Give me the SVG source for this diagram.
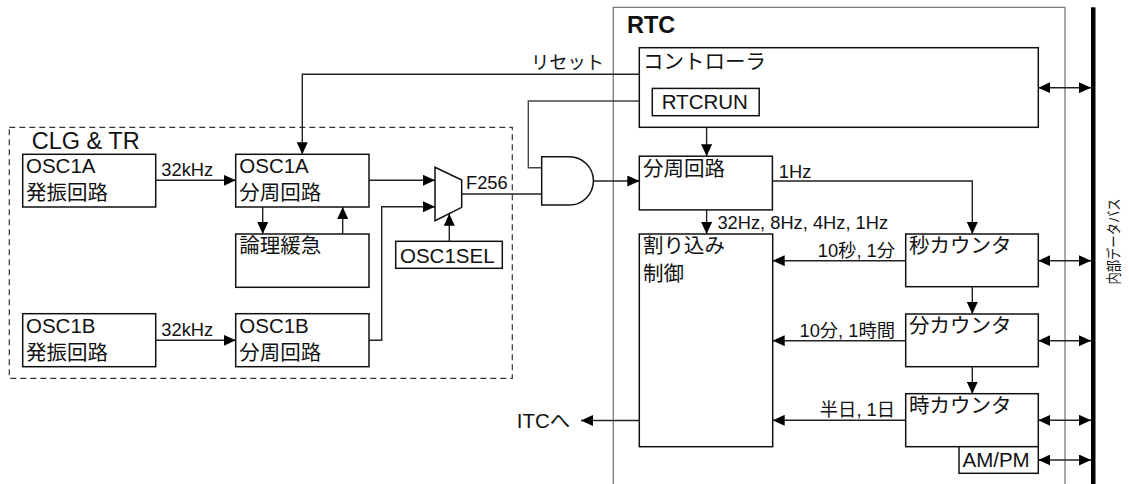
<svg xmlns="http://www.w3.org/2000/svg" width="1129" height="484" viewBox="0 0 1129 484">
<style>
.box{fill:#fff;stroke:#111;stroke-width:1.5}
.t{font-family:"Liberation Sans","Noto Sans CJK JP",sans-serif;font-size:20.5px;fill:#111}
.l{font-family:"Liberation Sans","Noto Sans CJK JP",sans-serif;font-size:18.3px;fill:#111}
.c{fill:none;stroke:#222;stroke-width:1.4}
.g{fill:none;stroke:#7a7a7a;stroke-width:1.3}
</style>
<defs>
<marker id="ah" markerUnits="userSpaceOnUse" markerWidth="12" markerHeight="11" refX="12" refY="5.5" orient="auto-start-reverse">
<path d="M0,0 L12,5.5 L0,11 z" fill="#000"/>
</marker>
</defs>
<rect width="1129" height="484" fill="#fff"/>

<g id="clg-tr">
<rect x="9.3" y="127.3" width="503" height="251" fill="none" stroke="#333" stroke-width="1.2" stroke-dasharray="6,4"/>
<text class="t" x="31.7" y="149.3" style="font-size:23.5px">CLG &amp; TR</text>
</g>

<g id="rtc">
<path class="g" d="M613.3,490 V7.3 H1065 V490"/>
<text x="627" y="32.7" style="font-family:'Liberation Sans',sans-serif;font-size:23.5px;font-weight:bold;fill:#111">RTC</text>
</g>

<g id="bus">
<rect x="1091" y="7.3" width="4.5" height="480" fill="#000"/>
<text class="l" transform="translate(1119,241.5) rotate(-90)" text-anchor="middle" textLength="86" lengthAdjust="spacingAndGlyphs" style="font-size:14.5px">内部データバス</text>
</g>

<g id="connectors">
<path class="c" d="M156,180.3 H235.7" marker-end="url(#ah)"/>
<path class="c" d="M156,340.3 H235.7" marker-end="url(#ah)"/>
<path class="c" d="M639.3,74.3 H302.3 V154.3" marker-end="url(#ah)"/>
<path class="c" d="M262.7,207 V234" marker-end="url(#ah)"/>
<path class="c" d="M342.7,234 V207" marker-end="url(#ah)"/>
<path class="c" d="M369,180.3 H435" marker-end="url(#ah)"/>
<path class="c" d="M369,340.3 H381.7 V206.7 H435" marker-end="url(#ah)"/>
<path class="c" d="M449.3,241.3 V213.8" marker-end="url(#ah)"/>
<path class="c" d="M461.7,194 H541.7"/>
<path class="c" d="M652.3,101 H528.3 V167.7 H541.7" style="stroke:#444"/>
<path class="c" d="M594,181 H639.3" marker-end="url(#ah)"/>
<path class="c" d="M706.6,127.3 V156.2" marker-end="url(#ah)"/>
<path class="c" d="M706.6,209.9 V234" marker-end="url(#ah)"/>
<path class="c" d="M772.4,181 H972.3 V234" marker-end="url(#ah)"/>
<path class="c" d="M972.3,286.7 V314" marker-end="url(#ah)"/>
<path class="c" d="M972.3,366.7 V393.7" marker-end="url(#ah)"/>
<path class="c" d="M905.7,260.7 H772.7" marker-end="url(#ah)"/>
<path class="c" d="M905.7,340.7 H772.7" marker-end="url(#ah)"/>
<path class="c" d="M905.7,420.3 H772.7" marker-end="url(#ah)"/>
<path class="c" d="M639.3,420.5 H581" marker-end="url(#ah)"/>
<path class="c" d="M1038.3,87.7 H1091" marker-start="url(#ah)" marker-end="url(#ah)"/>
<path class="c" d="M1038.3,260.7 H1091" marker-start="url(#ah)" marker-end="url(#ah)"/>
<path class="c" d="M1038.3,340.7 H1091" marker-start="url(#ah)" marker-end="url(#ah)"/>
<path class="c" d="M1038.3,420.3 H1091" marker-start="url(#ah)" marker-end="url(#ah)"/>
<path class="c" d="M1038.3,460 H1091" marker-start="url(#ah)" marker-end="url(#ah)"/>
<text class="l" x="161.3" y="176">32kHz</text>
<text class="l" x="161.3" y="336">32kHz</text>
<text class="l" x="604" y="69.3" text-anchor="end">リセット</text>
<text class="l" x="466" y="189">F256</text>
<text class="l" x="778.8" y="177.8">1Hz</text>
<text class="l" x="717.4" y="228.7">32Hz, 8Hz, 4Hz, 1Hz</text>
<text class="l" x="895" y="256.7" text-anchor="end">10秒, 1分</text>
<text class="l" x="895" y="336.7" text-anchor="end">10分, 1時間</text>
<text class="l" x="895" y="416" text-anchor="end">半日, 1日</text>
<text class="t" x="516.7" y="428.3">ITCへ</text>
</g>

<g id="osc1a-osc">
<rect class="box" x="22.7" y="154.3" width="133" height="52.7"/>
<text class="t" x="26" y="173.3">OSC1A</text>
<text class="t" x="26" y="200">発振回路</text>
</g>
<g id="osc1a-div">
<rect class="box" x="235.7" y="154.3" width="133.3" height="52.7"/>
<text class="t" x="239.3" y="173.3">OSC1A</text>
<text class="t" x="239.3" y="200">分周回路</text>
</g>
<g id="logic-adj">
<rect class="box" x="235.7" y="234" width="133.3" height="53.3"/>
<text class="t" x="239.3" y="253">論理緩急</text>
</g>
<g id="osc1b-osc">
<rect class="box" x="22.7" y="313.7" width="133" height="53"/>
<text class="t" x="26" y="333.3">OSC1B</text>
<text class="t" x="26" y="359.5">発振回路</text>
</g>
<g id="osc1b-div">
<rect class="box" x="235.7" y="313.7" width="133.3" height="53"/>
<text class="t" x="239.3" y="333.3">OSC1B</text>
<text class="t" x="239.3" y="359.5">分周回路</text>
</g>
<g id="mux">
<polygon class="box" points="435,167.3 461.7,180 461.7,207.3 435,220.7"/>
</g>
<g id="osc1sel">
<rect class="box" x="395.7" y="241.3" width="106.6" height="27"/>
<text class="t" x="400" y="263.3">OSC1SEL</text>
</g>
<g id="and-gate">
<path class="box" d="M541.7,156.7 H569.3 A24.15,24.15 0 0 1 569.3,205 H541.7 Z"/>
</g>
<g id="controller">
<rect class="box" x="639.3" y="47.7" width="399" height="79.6"/>
<text class="t" x="643" y="69">コントローラ</text>
</g>
<g id="rtcrun">
<rect class="box" x="652.3" y="88.4" width="106.9" height="27.3"/>
<text class="t" x="661.7" y="108.6">RTCRUN</text>
</g>
<g id="rtc-div">
<rect class="box" x="639.3" y="156.2" width="133.1" height="53.7"/>
<text class="t" x="643" y="176">分周回路</text>
</g>
<g id="interrupt">
<rect class="box" x="639.3" y="234" width="133.4" height="212.7"/>
<text class="t" x="643" y="253">割り込み</text>
<text class="t" x="643" y="281">制御</text>
</g>
<g id="sec-counter">
<rect class="box" x="905.7" y="234" width="132.6" height="52.7"/>
<text class="t" x="909" y="253.3">秒カウンタ</text>
</g>
<g id="min-counter">
<rect class="box" x="905.7" y="314" width="132.6" height="52.7"/>
<text class="t" x="909" y="333.3">分カウンタ</text>
</g>
<g id="hour-counter">
<rect class="box" x="905.7" y="393.7" width="132.6" height="53"/>
<text class="t" x="909" y="413">時カウンタ</text>
</g>
<g id="ampm">
<rect class="box" x="959" y="446.7" width="79.3" height="26.6"/>
<text class="t" x="962.5" y="467.3">AM/PM</text>
</g>
</svg>
